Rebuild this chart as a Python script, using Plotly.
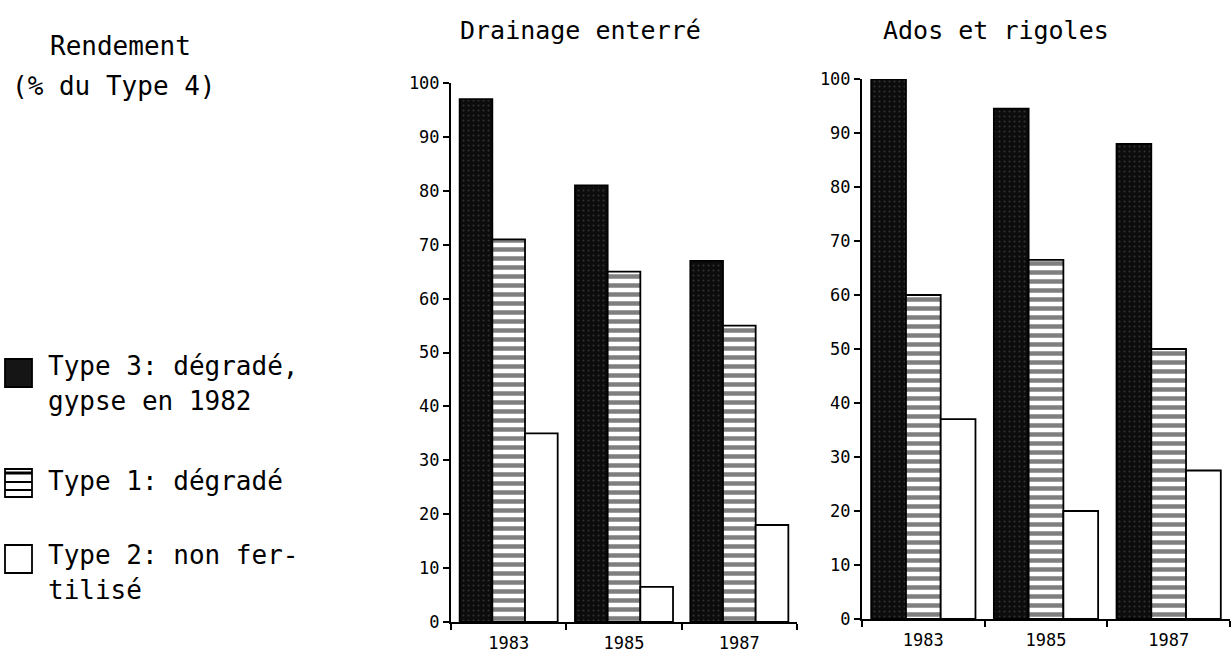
import plotly.graph_objects as go

# page is 1232x658; the default 8px body margin is removed by a post script
W, H = 1232, 658

years = ["1983", "1985", "1987"]
series_names = ["Type 3", "Type 1", "Type 2"]
drainage_type3 = [97, 81, 67]
drainage_type1 = [71, 65, 55]
drainage_type2 = [35, 6.5, 18]
ados_type3 = [100, 94.5, 88]
ados_type1 = [60, 66.5, 50]
ados_type2 = [37, 20, 27.5]
y_ticks = [0, 10, 20, 30, 40, 50, 60, 70, 80, 90, 100]

FONT = "DejaVu Sans Mono"

def px(x):
    return x / W

def py(y):
    return 1 - y / H

styles = [
    dict(color="#0c0c0c", pattern=dict(shape=".", fgcolor="#5a5a5a", bgcolor="#0c0c0c", size=5, solidity=0.12)),
    dict(color="white", pattern=dict(shape="-", fgcolor="black", bgcolor="white", size=9, solidity=0.5)),
    dict(color="white", pattern=dict(shape="", fgcolor="black", bgcolor="white")),
]

fig = go.Figure()
panels = [
    ("x", "y", [drainage_type3, drainage_type1, drainage_type2]),
    ("x2", "y2", [ados_type3, ados_type1, ados_type2]),
]
for xa, ya, data in panels:
    for name, vals, st in zip(series_names, data, styles):
        fig.add_trace(go.Bar(
            x=years, y=vals, name=name, xaxis=xa, yaxis=ya, showlegend=False,
            marker=dict(color=st["color"], pattern=st["pattern"],
                        line=dict(color="black", width=1.8)),
        ))

axis_common = dict(showgrid=False, zeroline=False, showline=True, linecolor="black",
                   linewidth=2, ticks="outside", tickcolor="black", tickwidth=2,
                   ticklen=6, tickfont=dict(family=FONT, size=17, color="black"))
xfont = dict(family=FONT, size=17, color="black")

fig.update_layout(
    width=W, height=H, margin=dict(l=0, r=0, t=0, b=0, autoexpand=False),
    paper_bgcolor="white", plot_bgcolor="white",
    barmode="group", bargap=0.15, bargroupgap=0,
    xaxis=dict(domain=[px(451), px(797)], type="category", tickson="boundaries",
               anchor="y", ticklabelstandoff=5, **{**axis_common, "tickfont": xfont}),
    yaxis=dict(domain=[py(622), py(83)], range=[0, 100], tickvals=y_ticks,
               anchor="x", **axis_common),
    xaxis2=dict(domain=[px(862), px(1230)], type="category", tickson="boundaries",
                anchor="y2", ticklabelstandoff=5, **{**axis_common, "tickfont": xfont}),
    yaxis2=dict(domain=[py(619), py(79)], range=[0, 100], tickvals=y_ticks,
                anchor="x2", **axis_common),
    showlegend=False,
)

def text(t, x, y, size, anchor="left"):
    fig.add_annotation(text=t, x=px(x), y=py(y), xref="paper", yref="paper",
                       xanchor=anchor, yanchor="middle", showarrow=False, align="left",
                       font=dict(family=FONT, size=size, color="black"))

text("Drainage enterré", 580, 30, 25, "center")
text("Ados et rigoles", 996, 30, 25, "center")
text("Rendement", 120, 46, 26, "center")
text("(% du Type 4)", 114, 86, 26, "center")

text("Type 3: dégradé,", 46, 366, 26)
text("gypse en 1982", 46, 401, 26)
text("Type 1: dégradé", 46, 481, 26)
text("Type 2: non fer-", 46, 555, 26)
text("tilisé", 46, 590, 26)

def rect(x0, y0, x1, y1, fill="white", lw=1.8):
    fig.add_shape(type="rect", xref="paper", yref="paper", x0=px(x0), x1=px(x1),
                  y0=py(y0), y1=py(y1), fillcolor=fill, line=dict(color="black", width=lw))

def hline(x0, x1, y, lw=2):
    fig.add_shape(type="line", xref="paper", yref="paper", x0=px(x0), x1=px(x1),
                  y0=py(y), y1=py(y), line=dict(color="black", width=lw))

rect(5, 359, 32, 387, fill="#151515")
rect(5, 469, 32, 497)
hline(5, 32, 473, 3)
hline(5, 32, 482)
hline(5, 32, 490)
rect(5, 545, 32, 573)

fig.write_html("out.html", post_script="document.body.style.margin='0';",
               config={"displayModeBar": False})
